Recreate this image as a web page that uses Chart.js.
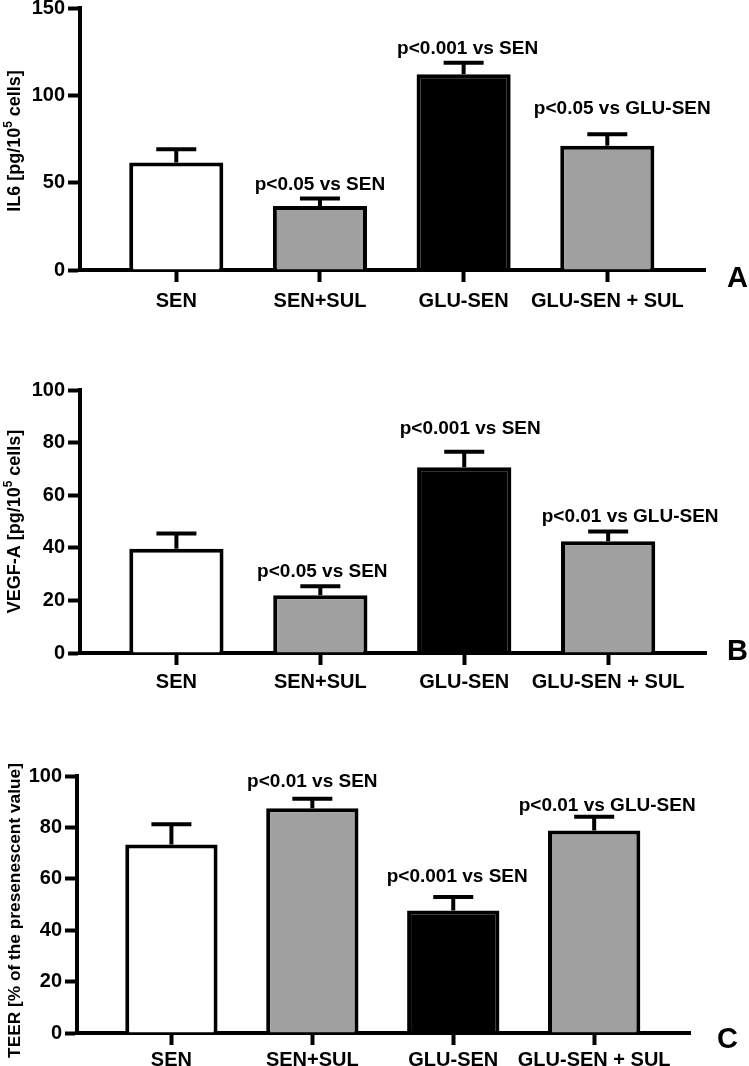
<!DOCTYPE html>
<html>
<head>
<meta charset="utf-8">
<script src="https://cdn.jsdelivr.net/npm/chart.js@4.4.1/dist/chart.umd.min.js"></script>
<style>
  html, body { margin: 0; padding: 0; background: #fff; overflow: hidden; }
  #wrap { position: relative; width: 749px; height: 1066px; overflow: hidden; }
  #wrap canvas { position: absolute; left: 0; }
</style>
</head>
<body>
<div id="wrap">
  <canvas id="chart-a"></canvas>
  <canvas id="chart-b"></canvas>
  <canvas id="chart-c"></canvas>
</div>
<script>
// ── DATA ─────────────────────────────────────────────────────────────────────

const categories = ['SEN', 'SEN+SUL', 'GLU-SEN', 'GLU-SEN + SUL']
const barColors = ['#ffffff', '#a0a0a0', '#000000', '#a0a0a0']

const il6Mean = [61.5, 36.6, 112, 71.2]
const il6Sem = [7.6, 4.4, 6.7, 6.5]
const il6Pvals = ['', 'p<0.05 vs SEN', 'p<0.001 vs SEN', 'p<0.05 vs GLU-SEN']
const il6Ticks = [0, 50, 100, 150]

const vegfMean = [39.6, 22, 70.6, 42.5]
const vegfSem = [5.8, 3.4, 5.9, 3.7]
const vegfPvals = ['', 'p<0.05 vs SEN', 'p<0.001 vs SEN', 'p<0.01 vs GLU-SEN']
const vegfTicks = [0, 20, 40, 60, 80, 100]

const teerMean = [73.3, 87.5, 47.7, 78.8]
const teerSem = [7.9, 3.6, 5.2, 5.3]
const teerPvals = ['', 'p<0.01 vs SEN', 'p<0.001 vs SEN', 'p<0.01 vs GLU-SEN']
const teerTicks = [0, 20, 40, 60, 80, 100]

// ── LAYOUT ───────────────────────────────────────────────────────────────────
// area = caixa do chartArea na página; pvalY em unidades do eixo y
// no título, "^5" vira expoente

const FONT = '"Liberation Sans", Arial, Helvetica, sans-serif'
const TOP_PAD = 14
const X_AXIS_H = 40

const panels = [
  {
    id: 'chart-a', letter: 'A', title: 'IL6 [pg/10^5 cells]', titleSize: 18, titleDy: 2,
    mean: il6Mean, sem: il6Sem, pvals: il6Pvals, ticks: il6Ticks,
    area: { top: 7, bottom: 270, left: 80, right: 705 }, labelPad: 7,
    pvalY: [0, 45.6, 123.8, 89.5], pvalDx: [0, 0, 4, 15],
    letterPos: { dx: 22, dy: 17 }
  },
  {
    id: 'chart-b', letter: 'B', title: 'VEGF-A [pg/10^5 cells]', titleSize: 18, titleDy: 0,
    mean: vegfMean, sem: vegfSem, pvals: vegfPvals, ticks: vegfTicks,
    area: { top: 389, bottom: 653, left: 80, right: 706 }, labelPad: 5,
    pvalY: [0, 28.8, 83.3, 50], pvalDx: [0, 2, 6, 22],
    letterPos: { dx: 21, dy: 7 }
  },
  {
    id: 'chart-c', letter: 'C', title: 'TEER [% of the presenescent value]', titleSize: 17.3, titleDy: 6,
    mean: teerMean, sem: teerSem, pvals: teerPvals, ticks: teerTicks,
    area: { top: 775, bottom: 1033, left: 77, right: 690 }, labelPad: 3,
    pvalY: [0, 95.7, 58.9, 86.4], pvalDx: [0, 0, 4, 13],
    letterPos: { dx: 27, dy: 15 }
  }
]

// ── HELPERS ──────────────────────────────────────────────────────────────────

// título vertical com expoente (o title do Chart.js não faz sobrescrito)
function drawYTitle(ctx, p, cx, cy) {
  const parts = p.title.split(/\^(\d+)/).map((t, i) => ({ text: t, sup: i % 2 === 1 }))
  const big = 'bold ' + p.titleSize + 'px ' + FONT
  const small = 'bold ' + Math.round(p.titleSize * 0.68) + 'px ' + FONT
  let total = 0
  parts.forEach(pt => {
    ctx.font = pt.sup ? small : big
    pt.w = ctx.measureText(pt.text).width
    total += pt.w
  })
  ctx.save()
  ctx.translate(cx, cy)
  ctx.rotate(-Math.PI / 2)
  ctx.fillStyle = '#000'
  ctx.textAlign = 'left'
  ctx.textBaseline = 'alphabetic'
  let pos = -total / 2
  parts.forEach(pt => {
    ctx.font = pt.sup ? small : big
    ctx.fillText(pt.text, pos, pt.sup ? -p.titleSize * 0.42 : 0)
    pos += pt.w
  })
  ctx.restore()
}

// ── PLUGIN: barras de erro, p-valores, título e letra do painel ──────────────

const extrasPlugin = {
  id: 'extras',
  afterDatasetsDraw(chart, args, opts) {
    const { ctx, chartArea, scales: { x, y } } = chart
    const p = opts.panel
    ctx.save()
    ctx.strokeStyle = '#000'
    ctx.lineWidth = 4
    ctx.lineCap = 'butt'
    p.mean.forEach((v, i) => {
      const px = x.getPixelForValue(i)
      const y0 = y.getPixelForValue(v)
      const y1 = y.getPixelForValue(v + p.sem[i])
      ctx.beginPath()
      ctx.moveTo(px, y0)
      ctx.lineTo(px, y1)
      ctx.moveTo(px - 20, y1)
      ctx.lineTo(px + 20, y1)
      ctx.stroke()
    })

    ctx.fillStyle = '#000'
    ctx.font = 'bold 19px ' + FONT
    ctx.textAlign = 'center'
    ctx.textBaseline = 'alphabetic'
    p.pvals.forEach((txt, i) => {
      if (!txt) return
      ctx.fillText(txt, x.getPixelForValue(i) + p.pvalDx[i], y.getPixelForValue(p.pvalY[i]))
    })

    ctx.font = 'bold 29px ' + FONT
    ctx.textAlign = 'left'
    ctx.fillText(p.letter, chartArea.right + p.letterPos.dx, chartArea.bottom + p.letterPos.dy)
    ctx.restore()

    drawYTitle(ctx, p, 20, (chartArea.top + chartArea.bottom) / 2 + p.titleDy)
  }
}

// ── RENDER ───────────────────────────────────────────────────────────────────

function renderPanel(p) {
  const canvas = document.getElementById(p.id)
  const top = p.area.top - TOP_PAD
  const height = p.area.bottom + X_AXIS_H - top
  canvas.width = 749
  canvas.height = height
  canvas.style.top = top + 'px'

  new Chart(canvas.getContext('2d'), {
    type: 'bar',
    data: {
      datasets: [{
        data: p.mean.map((v, i) => ({ x: i, y: v })),
        backgroundColor: barColors,
        borderColor: '#000',
        borderWidth: 4,
        borderSkipped: 'start',
        barPercentage: 0.655,
        categoryPercentage: 1
      }]
    },
    options: {
      responsive: false,
      animation: false,
      devicePixelRatio: 1,
      layout: { padding: { top: TOP_PAD, right: 749 - p.area.right, bottom: 0, left: 0 } },
      plugins: {
        legend: { display: false },
        tooltip: { enabled: false },
        extras: { panel: p }
      },
      scales: {
        x: {
          type: 'linear',
          offset: false,
          min: -0.67,
          max: 3.68,
          afterBuildTicks: s => { s.ticks = categories.map((c, i) => ({ value: i })) },
          afterFit: s => { s.height = X_AXIS_H },
          grid: { offset: false, drawOnChartArea: false, drawTicks: true, tickLength: 12, tickWidth: 4, tickColor: '#000' },
          border: { display: true, width: 4, color: '#000' },
          ticks: {
            autoSkip: false, maxRotation: 0, padding: p.labelPad, color: '#000',
            font: { family: FONT, size: 20, weight: 'bold' },
            callback: v => categories[v] ?? ''
          }
        },
        y: {
          min: p.ticks[0],
          max: p.ticks[p.ticks.length - 1],
          afterBuildTicks: s => { s.ticks = p.ticks.map(v => ({ value: v })) },
          afterFit: s => { s.width = p.area.left },
          grid: { drawOnChartArea: false, drawTicks: true, tickLength: 12, tickWidth: 4, tickColor: '#000' },
          border: { display: true, width: 4, color: '#000' },
          ticks: { padding: 3, color: '#000', font: { family: FONT, size: 20, weight: 'bold' } }
        }
      }
    },
    plugins: [extrasPlugin]
  })
}

panels.forEach(renderPanel)
</script>
</body>
</html>
